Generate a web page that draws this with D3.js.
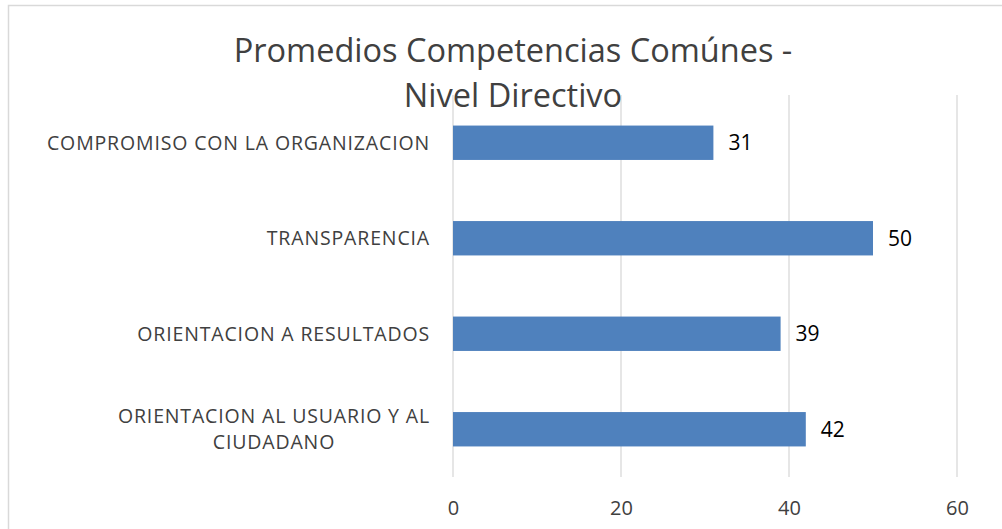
<!DOCTYPE html>
<html>
<head>
<meta charset="utf-8">
<script src="https://cdn.jsdelivr.net/npm/d3@7"></script>
<style>
  body { margin: 0; background: #fff; }
  text { font-family: "Open Sans", "Noto Sans", sans-serif; }
</style>
</head>
<body>
<div class="chart"></div>
<script>
const width = 1002;
const height = 529;

const titleLines = ["Promedios Competencias Comúnes -", "Nivel Directivo"];
const categories = [
  "COMPROMISO CON LA ORGANIZACION",
  "TRANSPARENCIA",
  "ORIENTACION A RESULTADOS",
  "ORIENTACION AL USUARIO Y AL CIUDADANO"
];
const labelLines = [
  ["COMPROMISO CON LA ORGANIZACION"],
  ["TRANSPARENCIA"],
  ["ORIENTACION A RESULTADOS"],
  ["ORIENTACION AL USUARIO Y AL", "CIUDADANO"]
];
const values = [31, 50, 39, 42];
const xTicks = [0, 20, 40, 60];

const margin = {top: 95, right: 45, bottom: 52, left: 453};

const svg = d3.select(".chart").append("svg")
    .attr("width", width).attr("height", height);

// chart frame
svg.append("rect")
    .attr("x", 8.5).attr("y", 5.5)
    .attr("width", width).attr("height", height)
    .attr("fill", "none").attr("stroke", "#d9d9d9").attr("stroke-width", 1.5);

const x = d3.scaleLinear()
    .domain([0, 60])
    .range([margin.left, width - margin.right]);

const y = d3.scaleBand()
    .domain(categories)
    .range([margin.top, height - margin.bottom])
    .paddingInner(0.64)
    .paddingOuter(0.32);

const grid = svg.append("g");
grid.selectAll("line")
  .data(xTicks)
  .enter()
    .append("line")
    .attr("x1", d => x(d)).attr("x2", d => x(d))
    .attr("y1", margin.top).attr("y2", height - margin.bottom)
    .attr("stroke", "#d9d9d9").attr("stroke-width", 1.3);

const xAxis = svg.append("g")
    .attr("transform", `translate(0,${height - margin.bottom})`)
    .call(d3.axisBottom(x).tickValues(xTicks).tickSize(0).tickPadding(24));
xAxis.select(".domain").remove();
xAxis.selectAll("text")
    .attr("font-size", 20)
    .attr("font-family", "'Open Sans', sans-serif")
    .attr("fill", "#404040");

svg.selectAll(".bar")
  .data(values)
  .enter()
    .append("rect")
    .attr("class", "bar")
    .attr("x", x(0))
    .attr("y", (d, i) => y(categories[i]))
    .attr("width", d => x(d) - x(0))
    .attr("height", y.bandwidth())
    .attr("fill", "#4f81bd");

svg.selectAll(".value")
  .data(values)
  .enter()
    .append("text")
    .attr("class", "value")
    .attr("x", d => x(d) + 15)
    .attr("y", (d, i) => y(categories[i]) + y.bandwidth() / 2)
    .attr("dy", "0.35em")
    .attr("font-size", 21)
    .attr("fill", "#000")
    .text(d => d);

const labels = svg.selectAll(".cat")
  .data(labelLines)
  .enter()
    .append("text")
    .attr("class", "cat")
    .attr("text-anchor", "end")
    .attr("font-size", 19.5)
    .attr("letter-spacing", 0.85)
    .attr("fill", "#404040");

labels.each(function(lines, i) {
  const cy = y(categories[i]) + y.bandwidth() / 2;
  const lh = 26;
  const el = d3.select(this);
  lines.forEach((t, j) => {
    el.append("tspan")
      .attr("x", 430)
      .attr("y", cy + (j - (lines.length - 1) / 2) * lh)
      .attr("dy", "0.35em")
      .text(t);
  });
});
// wrapped label: lines centred on the first line
labels.filter(d => d.length > 1).each(function() {
  const ts = d3.select(this).selectAll("tspan");
  const w0 = ts.nodes()[0].getComputedTextLength();
  d3.select(this).attr("text-anchor", "middle");
  ts.attr("x", 430 - w0 / 2);
});

svg.append("g").selectAll("text")
  .data(titleLines)
  .enter()
    .append("text")
    .attr("x", 513)
    .attr("y", (d, i) => 62 + i * 45)
    .attr("text-anchor", "middle")
    .attr("font-size", 32.5)
    .attr("fill", "#404040")
    .text(d => d);
</script>
</body>
</html>
